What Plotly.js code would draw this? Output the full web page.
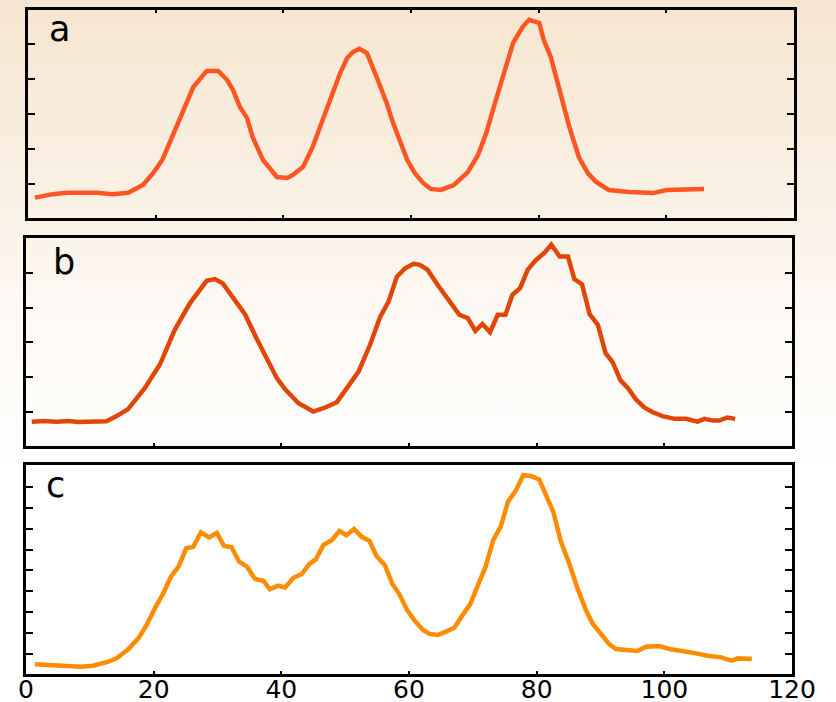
<!DOCTYPE html>
<html>
<head>
<meta charset="utf-8">
<script src="https://cdn.plot.ly/plotly-3.0.1.min.js"></script>
<style>
  html, body { margin: 0; padding: 0; }
  #chart {
    width: 836px; height: 702px;
    background: linear-gradient(to bottom, #f6e6cf 0%, #f9efe2 25%, #fdf9f4 45%, #ffffff 68%, #ffffff 100%);
  }
</style>
</head>
<body>
<div id="chart"></div>
<script>
// Panel a
const ax = [1.1,3.9,6.1,10.8,13.2,15.7,18,19.6,21.1,22.6,24.1,25.9,28,29.8,31.2,32.1,33.2,34.3,35.2,36.8,39,40.6,41.5,43.1,44.6,46.2,47.8,48.9,50,50.9,51.9,53.1,54.8,56.2,57.2,58.3,59.4,60.6,61.9,63.1,64.7,66.7,68.9,70.5,71.8,73.3,74.6,76,77.5,78.5,80.1,80.8,81.9,82.7,83.8,84.8,86.3,87.7,89,91,94.2,97.9,100,103.1,105.9];
const ay = [0.61,0.71,0.75,0.75,0.71,0.75,0.97,1.31,1.71,2.34,3.03,3.77,4.23,4.23,3.97,3.69,3.2,2.89,2.34,1.69,1.2,1.17,1.26,1.49,2.06,2.83,3.69,4.17,4.6,4.77,4.86,4.74,3.97,3.31,2.74,2.17,1.69,1.31,1.03,0.86,0.83,0.97,1.34,1.83,2.46,3.4,4.2,5.03,5.49,5.69,5.6,5.11,4.63,4.06,3.4,2.63,1.77,1.31,1.06,0.83,0.77,0.74,0.83,0.86,0.86];
// Panel b
const bx = [0.9,2.7,4.8,6.6,8.2,12.6,14.2,16,18.6,21,23.3,25.7,28.3,29.6,30.8,32.5,34.3,36.1,37.7,39.3,40.6,42.7,45,46.8,48.7,50.2,52.1,53.9,55.5,56.8,58.1,59.4,60.7,61.7,62.9,64.5,66.3,67.9,69.2,70.4,71.5,72.7,73.9,75.1,76.2,77.4,78.6,79.9,81.2,82.3,83.6,84.9,85.9,87.1,88.3,89.6,90.8,91.9,93.1,94.3,95.6,96.9,98.2,99.7,101.6,103.4,105.2,106.3,107.6,108.6,109.9,111.1];
const by = [0.72,0.74,0.72,0.74,0.71,0.73,0.88,1.08,1.68,2.37,3.36,4.13,4.77,4.82,4.7,4.27,3.81,3.12,2.55,1.97,1.65,1.25,1.01,1.12,1.28,1.68,2.16,2.93,3.74,4.17,4.89,5.13,5.26,5.23,5.09,4.65,4.22,3.79,3.7,3.33,3.53,3.29,3.79,3.79,4.37,4.56,5.09,5.37,5.57,5.81,5.47,5.47,4.82,4.67,3.81,3.5,2.69,2.43,1.92,1.68,1.35,1.12,0.99,0.88,0.8,0.8,0.72,0.8,0.75,0.75,0.84,0.8];
// Panel c
const cx = [1.4,3.8,6.1,8.5,10.5,12.9,14.2,16,17.6,18.9,20.2,21.5,22.7,23.9,25.1,26.2,27.4,28.7,29.9,31,32.2,33.4,34.6,35.9,37.2,38.2,39.5,40.6,41.9,43.2,44.4,45.4,46.6,47.9,49.1,50.2,51.4,52.6,53.8,54.9,56.2,57.4,58.5,59.7,60.9,62.2,63.2,64.5,65.8,67.1,68.4,69.6,70.8,72,73.2,74.4,75.5,76.7,77.9,79.1,80.4,81.6,82.6,83.8,85.1,86.4,87.7,88.8,90.1,91.4,92.4,93.7,95.8,97.1,99.2,100.8,102.9,105,106.8,108.9,110.5,111.5,113.7];
const cy = [0.51,0.47,0.47,0.39,0.44,0.63,0.79,1.22,1.75,2.39,3.19,3.9,4.7,5.18,6.06,6.13,6.82,6.58,6.8,6.18,6.11,5.42,5.18,4.59,4.51,4.1,4.27,4.19,4.65,4.83,5.31,5.53,6.22,6.45,6.89,6.69,6.98,6.61,6.42,5.69,5.26,4.35,3.86,3.11,2.59,2.15,1.96,1.91,2.07,2.26,2.87,3.39,4.3,5.18,6.45,7.12,8.29,8.81,9.56,9.52,9.36,8.45,7.81,6.37,5.34,4.14,3.11,2.44,1.91,1.46,1.24,1.19,1.14,1.35,1.38,1.24,1.16,1.03,0.92,0.84,0.68,0.79,0.76];

const panelLabels = ['a', 'b', 'c'];
const xTickVals = [0, 20, 40, 60, 80, 100, 120];
const xTickText = ['0', '20', '40', '60', '80', '100', '120'];
const topTickVals = [12, 24, 36, 48, 60, 72, 84, 96, 108];
const yTicksAB = [1, 2, 3, 4, 5];
const yTicksC = [1, 2, 3, 4, 5, 6, 7, 8, 9];

const colors = ['#ff5522', '#e04606', '#ff8c00'];

const traces = [
  {x: ax, y: ay, xaxis: 'x', yaxis: 'y', mode: 'lines', line: {color: colors[0], width: 4.5}, hoverinfo: 'skip'},
  {x: bx, y: by, xaxis: 'x2', yaxis: 'y2', mode: 'lines', line: {color: colors[1], width: 4.5}, hoverinfo: 'skip'},
  {x: cx, y: cy, xaxis: 'x3', yaxis: 'y3', mode: 'lines', line: {color: colors[2], width: 4.5}, hoverinfo: 'skip'}
];

const W = 836, H = 702;
const xdomA = [28 / W, 794 / W];
const xdomBC = [26 / W, 792 / W];

function xBase(dom, anchor, mirror, showLabels) {
  return {
    domain: dom, anchor: anchor, range: [0, 120],
    tickmode: 'array', tickvals: showLabels ? xTickVals : [20, 40, 60, 80, 100],
    ticktext: showLabels ? xTickText : undefined,
    ticks: 'inside', ticklen: 3, tickwidth: 2, tickcolor: '#000',
    showticklabels: showLabels,
    ticklabelstandoff: -9,
    tickfont: {family: 'DejaVu Sans, sans-serif', size: 25, color: '#000'},
    showline: true, linewidth: 3, linecolor: '#000', mirror: mirror,
    showgrid: false, zeroline: false, fixedrange: true
  };
}
function yBase(dom, anchor, range, vals) {
  return {
    domain: dom, anchor: anchor, range: range,
    tickmode: 'array', tickvals: vals,
    ticks: 'inside', ticklen: 7, tickwidth: 2, tickcolor: '#000',
    showticklabels: false,
    showline: true, linewidth: 3, linecolor: '#000', mirror: 'ticks',
    showgrid: false, zeroline: false, fixedrange: true
  };
}
function xTop(over, anchor) {
  return {
    overlaying: over, anchor: anchor, side: 'top', range: [0, 120],
    tickmode: 'array', tickvals: topTickVals,
    ticks: 'inside', ticklen: 3, tickwidth: 2, tickcolor: '#000',
    showticklabels: false, showline: false, showgrid: false, zeroline: false, fixedrange: true
  };
}

const layout = {
  width: W, height: H,
  margin: {l: 0, r: 0, t: 0, b: 0},
  paper_bgcolor: 'rgba(0,0,0,0)',
  plot_bgcolor: 'rgba(0,0,0,0)',
  showlegend: false,
  xaxis: xBase(xdomA, 'y', 'ticks', false),
  yaxis: yBase([1 - 218 / H, 1 - 10 / H], 'x', [0.029, 5.97], yTicksAB),
  xaxis2: xBase(xdomBC, 'y2', true, false),
  yaxis2: yBase([1 - 446 / H, 1 - 238 / H], 'x2', [0.02, 6.0], yTicksAB),
  xaxis3: xBase(xdomBC, 'y3', true, true),
  yaxis3: yBase([1 - 674 / H, 1 - 465 / H], 'x3', [0.042, 10.05], yTicksC),
  xaxis4: xTop('x2', 'y2'),
  xaxis5: xTop('x3', 'y3'),
  annotations: [
    {text: panelLabels[0], xref: 'paper', yref: 'paper', x: 47 / W, y: 1 - 29 / H, xanchor: 'left', yanchor: 'middle', showarrow: false, font: {family: 'DejaVu Sans, sans-serif', size: 35, color: '#000'}},
    {text: panelLabels[1], xref: 'paper', yref: 'paper', x: 51 / W, y: 1 - 262 / H, xanchor: 'left', yanchor: 'middle', showarrow: false, font: {family: 'DejaVu Sans, sans-serif', size: 35, color: '#000'}},
    {text: panelLabels[2], xref: 'paper', yref: 'paper', x: 44 / W, y: 1 - 485 / H, xanchor: 'left', yanchor: 'middle', showarrow: false, font: {family: 'DejaVu Sans, sans-serif', size: 35, color: '#000'}}
  ]
};

Plotly.newPlot('chart', traces, layout, {displayModeBar: false, staticPlot: true});
</script>
</body>
</html>
